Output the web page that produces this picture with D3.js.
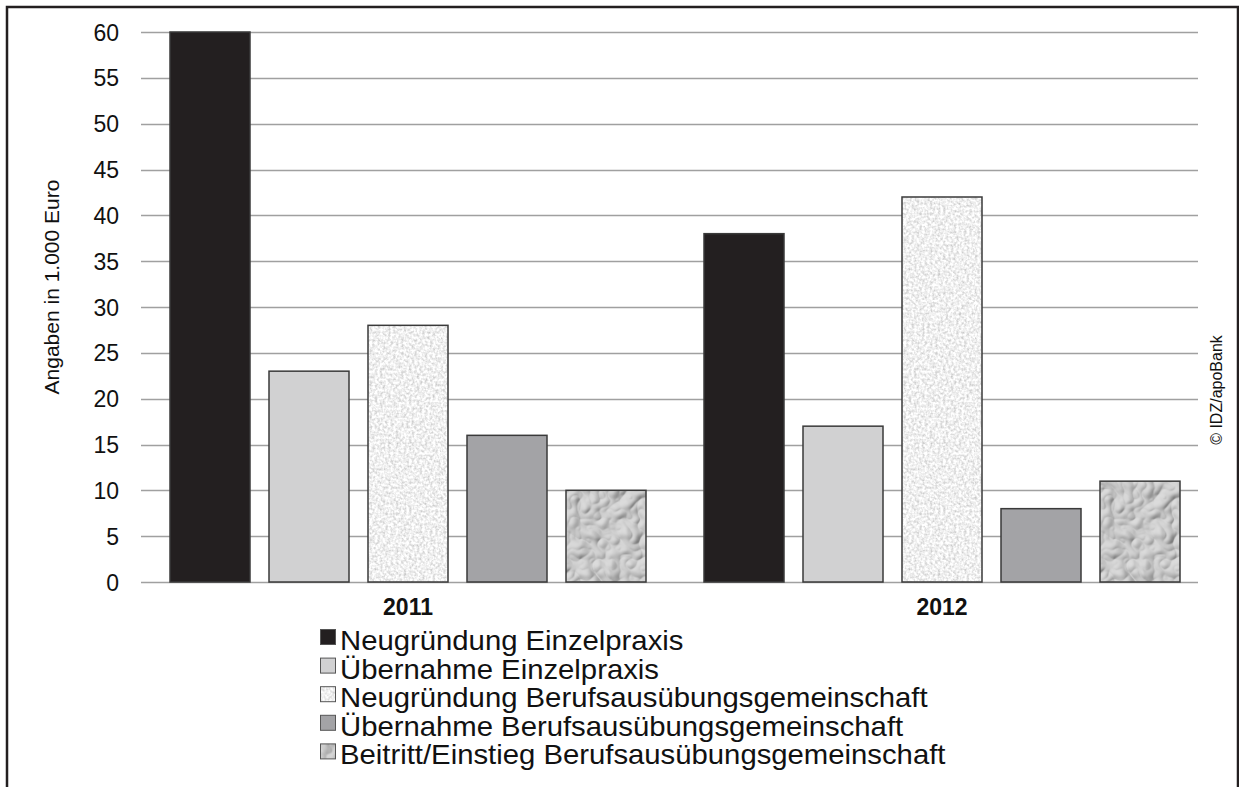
<!DOCTYPE html>
<html>
<head>
<meta charset="utf-8">
<script src="https://cdn.jsdelivr.net/npm/d3@7"></script>
<style>
  html, body { margin: 0; padding: 0; background: #fff; }
  svg { display: block; font-family: "Liberation Sans", Arial, sans-serif; }
</style>
</head>
<body>
<svg id="chart" width="1239" height="787"></svg>
<script>
const categories = ["2011", "2012"];
const seriesNames = [
  "Neugründung Einzelpraxis",
  "Übernahme Einzelpraxis",
  "Neugründung Berufsausübungsgemeinschaft",
  "Übernahme Berufsausübungsgemeinschaft",
  "Beitritt/Einstieg Berufsausübungsgemeinschaft"
];
const neugruendungEinzel = [60, 38];
const uebernahmeEinzel = [23, 17];
const neugruendungBAG = [28, 42];
const uebernahmeBAG = [16, 8];
const beitrittBAG = [10, 11];
const yTicks = [0, 5, 10, 15, 20, 25, 30, 35, 40, 45, 50, 55, 60];
const yTitle = "Angaben in 1.000 Euro";
const copyright = "© IDZ/apoBank";

const seriesValues = [neugruendungEinzel, uebernahmeEinzel, neugruendungBAG, uebernahmeBAG, beitrittBAG];
const fills = ["#231f20", "#d1d1d2", "url(#speckle)", "#a3a3a6", "url(#drops)"];

const svg = d3.select("#chart");
const defs = svg.append("defs");

// speckled texture
const f1 = defs.append("filter").attr("id", "fSpeckle").attr("x", 0).attr("y", 0).attr("width", 1).attr("height", 1);
f1.append("feTurbulence").attr("type", "fractalNoise").attr("baseFrequency", 0.38).attr("numOctaves", 2).attr("seed", 3).attr("result", "n");
f1.append("feColorMatrix").attr("type", "matrix")
  .attr("values", "0.8 0 0 0 0.47  0.8 0 0 0 0.47  0.8 0 0 0 0.47  0 0 0 0 1");
const p1 = defs.append("pattern").attr("id", "speckle").attr("patternUnits", "userSpaceOnUse")
  .attr("width", 300).attr("height", 300);
p1.append("rect").attr("width", 300).attr("height", 300).attr("fill", "#e0e0e0").attr("filter", "url(#fSpeckle)");

// water drop texture
const f2 = defs.append("filter").attr("id", "fDrops").attr("x", 0).attr("y", 0).attr("width", 1).attr("height", 1);
f2.append("feTurbulence").attr("type", "turbulence").attr("baseFrequency", 0.05).attr("numOctaves", 2).attr("seed", 11).attr("result", "n");
const light = f2.append("feDiffuseLighting").attr("in", "n").attr("surfaceScale", 3.5).attr("diffuseConstant", 1.0).attr("lighting-color", "#dcdcdc").attr("result", "l");
light.append("feDistantLight").attr("azimuth", 225).attr("elevation", 55);
const p2 = defs.append("pattern").attr("id", "drops").attr("patternUnits", "userSpaceOnUse")
  .attr("width", 300).attr("height", 300);
p2.append("rect").attr("width", 300).attr("height", 300).attr("fill", "#bbb").attr("filter", "url(#fDrops)");

// outer border
svg.append("path").attr("d", "M7,787 V7 H1238 V787").attr("fill", "none").attr("stroke", "#231f20").attr("stroke-width", 2.5);

const plotLeft = 141, plotRight = 1198;
const y = d3.scaleLinear().domain([0, 60]).range([582, 32]);
const x0 = d3.scaleBand().domain(categories).range([141, 1209]);
const x1 = d3.scaleBand().domain(d3.range(seriesNames.length)).range([29, 505]).paddingInner(19 / 99).paddingOuter(0);

// gridlines
svg.append("g").selectAll("line").data(yTicks).join("line")
  .attr("x1", plotLeft).attr("x2", plotRight)
  .attr("y1", d => Math.round(y(d)) + 0.5).attr("y2", d => Math.round(y(d)) + 0.5)
  .attr("stroke", "#a0a0a0").attr("stroke-width", 1.3);

// y axis labels
const yAxis = d3.axisLeft(y).tickValues(yTicks).tickSize(0).tickPadding(0);
const gy = svg.append("g").attr("transform", "translate(119,0)").call(yAxis);
gy.attr("font-size", null).attr("font-family", null);
gy.select(".domain").remove();
gy.selectAll("text").style("font-size", "23px").attr("fill", "#111").attr("dy", "0.35em");

// bars
const groups = svg.append("g").selectAll("g").data(categories).join("g")
  .attr("transform", d => `translate(${x0(d)},0)`);
groups.selectAll("rect").data((c, ci) => seriesValues.map((vals, si) => ({ si, v: vals[ci] })))
  .join("rect")
  .attr("x", d => x1(d.si))
  .attr("width", x1.bandwidth())
  .attr("y", d => y(d.v))
  .attr("height", d => y(0) - y(d.v))
  .attr("fill", d => fills[d.si])
  .attr("stroke", "#3a3a3a").attr("stroke-width", 1.5);

// x labels
svg.append("g").selectAll("text").data(categories).join("text")
  .attr("x", d => x0(d) + 29 + 238)
  .attr("y", 615)
  .attr("text-anchor", "middle")
  .style("font-size", "23px").attr("font-weight", "bold").attr("fill", "#111")
  .text(d => d);

// y title
svg.append("text")
  .attr("transform", "translate(59,287) rotate(-90)")
  .attr("text-anchor", "middle")
  .style("font-size", "21px").attr("fill", "#111")
  .text(yTitle);

// copyright
svg.append("text")
  .attr("transform", "translate(1222,390) rotate(-90)")
  .attr("text-anchor", "middle")
  .style("font-size", "16px").attr("fill", "#111")
  .text(copyright);

// legend
const leg = svg.append("g").selectAll("g").data(seriesNames).join("g")
  .attr("transform", (d, i) => `translate(320,${650 + i * 28.6})`);
leg.append("rect").attr("x", 0.5).attr("y", -20.5).attr("width", 15).attr("height", 15)
  .attr("fill", (d, i) => fills[i]).attr("stroke", "#555").attr("stroke-width", 1);
leg.append("text").attr("transform", "translate(20,0) scale(1.085,1)")
  .style("font-size", "27px").attr("fill", "#111")
  .text(d => d);
</script>
</body>
</html>
